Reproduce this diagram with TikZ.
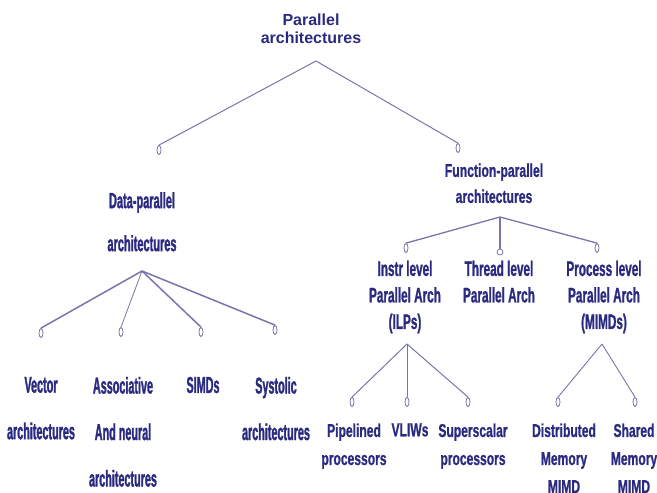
\documentclass[tikz,border=0pt]{standalone}
\usepackage{fontspec}
\setmainfont{Liberation Sans}
\newfontfamily\fTop{Liberation Sans}
\newfontfamily\fData[FakeStretch=0.5,FakeBold=1.2]{Liberation Sans}
\newfontfamily\fFunc[FakeStretch=0.66,FakeBold=0.8]{Liberation Sans}
\newfontfamily\fMid[FakeStretch=0.56,FakeBold=1.0]{Liberation Sans}
\newfontfamily\fLeaf[FakeStretch=0.47,FakeBold=1.2]{Liberation Sans}
\newfontfamily\fLow[FakeStretch=0.65,FakeBold=0.8]{Liberation Sans}
\usetikzlibrary{shapes.geometric}
\definecolor{ink}{RGB}{42,42,128}
\definecolor{wire}{RGB}{118,118,172}
\begin{document}
\begin{tikzpicture}[x=1pt,y=-1pt,
  lbl/.style={text=ink, align=center, inner sep=0pt, anchor=north},
  tip/.style={draw=wire, fill=white, ellipse, minimum width=4pt, minimum height=9pt, inner sep=0pt, line width=0.8pt},
  dot/.style={draw=wire, fill=white, circle, minimum size=6pt, inner sep=0pt, line width=0.8pt},
  link/.style={draw=wire, line width=1pt},
  bold link/.style={draw=wire, line width=1.5pt}]
\useasboundingbox (0,0) rectangle (657,493);

% root
\node[lbl, font=\fTop\bfseries\fontsize{16}{18}\selectfont] (root) at (311,14.2) {Parallel\\architectures};
\coordinate (rootfork) at (316,61);

% level 1
\node[tip] (dataend) at (159,150) {};
\node[tip] (funcend) at (458,148) {};
\node[lbl, font=\fData\bfseries\fontsize{22}{43}\selectfont] (data) at (142,192) {Data-parallel\\architectures};
\node[lbl, font=\fFunc\bfseries\fontsize{18.5}{26}\selectfont] (func) at (494,163.3) {Function-parallel\\architectures};
\coordinate (datafork) at (142,271);
\coordinate (funcfork) at (500,217);

% data-parallel children
\node[tip] (vecend) at (41,333) {};
\node[tip] (assend) at (121,332) {};
\node[tip] (simdend) at (201,332) {};
\node[tip] (sysend) at (275,330) {};
\node[lbl, font=\fLeaf\bfseries\fontsize{23}{46.5}\selectfont] (vec) at (41,376.7) {Vector\\architectures};
\node[lbl, font=\fLeaf\bfseries\fontsize{23}{46.5}\selectfont] (ass) at (123,376.7) {Associative\\And neural\\architectures};
\node[lbl, font=\fLeaf\bfseries\fontsize{23}{46.5}\selectfont] (simd) at (203,376.7) {SIMDs};
\node[lbl, font=\fLeaf\bfseries\fontsize{23}{46.5}\selectfont] (sys) at (276,376.7) {Systolic\\architectures};

% function-parallel children
\node[tip] (ilpend) at (406,248) {};
\node[dot] (thrend) at (500,252) {};
\node[tip] (mimdend) at (597,248) {};
\node[lbl, font=\fMid\bfseries\fontsize{21}{26.5}\selectfont] (ilp) at (405,260.5) {Instr level\\Parallel Arch\\(ILPs)};
\node[lbl, font=\fMid\bfseries\fontsize{21}{26.5}\selectfont] (thr) at (499,260.5) {Thread level\\Parallel Arch};
\node[lbl, font=\fMid\bfseries\fontsize{21}{26.5}\selectfont] (mimd) at (604,260.5) {Process level\\Parallel Arch\\(MIMDs)};
\coordinate (ilpfork) at (407,344);
\coordinate (mimdfork) at (602,344);

% ILP children
\node[tip] (pipend) at (352,402) {};
\node[tip] (vliwend) at (407,402) {};
\node[tip] (supend) at (468,402) {};
\node[lbl, font=\fLow\bfseries\fontsize{18.6}{28}\selectfont] (pip) at (354,423.3) {Pipelined\\processors};
\node[lbl, font=\fLow\bfseries\fontsize{18.6}{28}\selectfont] (vliw) at (410,423.3) {VLIWs};
\node[lbl, font=\fLow\bfseries\fontsize{18.6}{28}\selectfont] (sup) at (473,423.3) {Superscalar\\processors};

% MIMD children (the last line runs to the lower edge)
\node[tip] (dmend) at (558,402) {};
\node[tip] (smend) at (635,402) {};
\node[lbl, font=\fLow\bfseries\fontsize{18.6}{28}\selectfont] (dm) at (564,423.3) {Distributed\\Memory\\MIMD};
\node[lbl, font=\fLow\bfseries\fontsize{18.6}{28}\selectfont] (sm) at (634,423.3) {Shared\\Memory\\MIMD};

% connectors
\draw[link] (dataend.north) -- (rootfork) -- (funcend.north);
\draw[bold link] (datafork) -- (vecend.north);
\draw[link, line width=0.8pt] (datafork) -- (assend.north);
\draw[bold link] (datafork) -- (simdend.north);
\draw[bold link] (datafork) -- (sysend.north);
\draw[bold link, line width=1.3pt] (funcfork) -- (ilpend.north);
\draw[bold link, line width=1.3pt] (funcfork) -- (thrend.north);
\draw[bold link, line width=1.3pt] (funcfork) -- (mimdend.north);
\draw[link] (ilpfork) -- (pipend.north);
\draw[link] (ilpfork) -- (vliwend.north);
\draw[link] (ilpfork) -- (supend.north);
\draw[link, line width=0.9pt] (mimdfork) -- (dmend.north);
\draw[link, line width=0.9pt] (mimdfork) -- (smend.north);
\end{tikzpicture}
\end{document}
